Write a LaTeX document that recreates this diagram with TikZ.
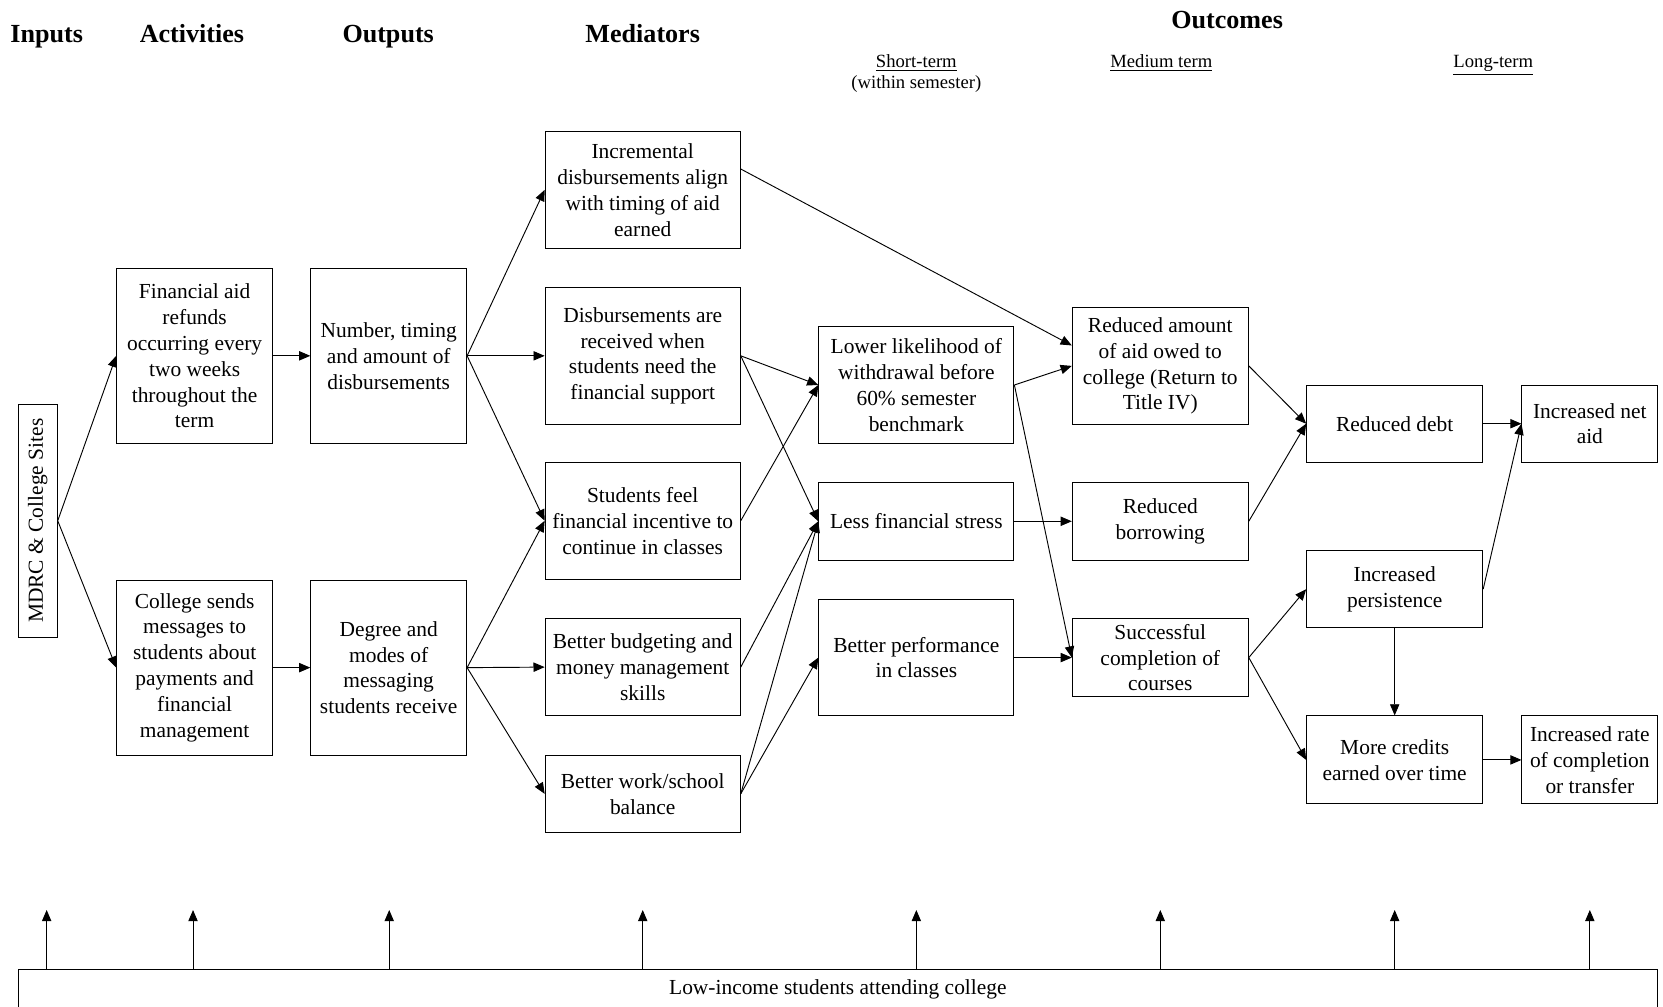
\documentclass[tikz,border=0pt]{standalone}
\usepackage{fontspec}
\setmainfont{Liberation Serif}
\usetikzlibrary{arrows.meta}
\newcommand*{\px}{0.02cm}
\tikzset{
	box/.style n args={2}{
		draw,
		line width=0.5pt,
		minimum width=#1*\px,
		minimum height=#2*\px,
		align=center,
		inner sep=1pt,
		font=\fontsize{11.5}{13.9}\selectfont,
		},
	head/.style={
		font=\fontsize{14}{16}\selectfont\bfseries,
		text height=1.6ex,
		text depth=0.5ex,
		},
	term/.style={
		font=\fontsize{10}{12}\selectfont,
		text height=1.6ex,
		text depth=0.5ex,
		},
	link/.style={
		line width=0.5pt,
		-{Triangle[length=6pt,width=5pt]},
		}
	}
\begin{document}
\begin{tikzpicture}[x=\px, y=-\px]
	\useasboundingbox (0,0) rectangle (1568,949);
	% column heads
	\node (hinp) [head] at (44,36)   {Inputs};
	\node (hact) [head] at (181,36)  {Activities};
	\node (hout) [head] at (366,36)  {Outputs};
	\node (hmed) [head] at (606,36)  {Mediators};
	\node (hres) [head] at (1157,22) {Outcomes};
	\node (hst)  [term] at (864,59)  {\underline{Short-term}};
	\node (hst2) [term] at (864,79)  {(within semester)};
	\node (hmt)  [term] at (1095,59) {\underline{Medium term}};
	\node (hlt)  [term] at (1408,59) {\underline{Long-term}};
	% boxes
	\node (mdrc) [box={220}{37}, rotate=90] at (35.5,491) {MDRC \& College Sites};
	\node (act1) [box={147}{165}] at (183.5,335.5) {Financial aid\\refunds\\occurring every\\two weeks\\throughout the\\term};
	\node (act2) [box={147}{165}] at (183.5,629.5) {College sends\\messages to\\students about\\payments and\\financial\\management};
	\node (out1) [box={147}{165}] at (366.5,335.5) {Number, timing\\and amount of\\disbursements};
	\node (out2) [box={147}{165}] at (366.5,629.5) {Degree and\\modes of\\messaging\\students receive};
	\node (med1) [box={184}{110}] at (606,179)   {Incremental\\disbursements align\\with timing of aid\\earned};
	\node (med2) [box={184}{129}] at (606,335.5) {Disbursements are\\received when\\students need the\\financial support};
	\node (med3) [box={184}{110}] at (606,491)   {Students feel\\financial incentive to\\continue in classes};
	\node (med4) [box={184}{92}]  at (606,629)   {Better budgeting and\\money management\\skills};
	\node (med5) [box={184}{73}]  at (606,748.5) {Better work/school\\balance};
	\node (st1)  [box={184}{110}] at (864,363)   {Lower likelihood of\\withdrawal before\\60\% semester\\benchmark};
	\node (st2)  [box={184}{73}]  at (864,491.5) {Less financial stress};
	\node (st3)  [box={184}{110}] at (864,620)   {Better performance\\in classes};
	\node (mt1)  [box={166}{110}] at (1094,345)   {Reduced amount\\of aid owed to\\college (Return to\\Title IV)};
	\node (mt2)  [box={166}{73}]  at (1094,491.5) {Reduced\\borrowing};
	\node (mt3)  [box={166}{74}]  at (1094,620)   {Successful\\completion of\\courses};
	\node (lt1)  [box={166}{73}]  at (1315,399.5) {Reduced debt};
	\node (lt2)  [box={166}{73}]  at (1315,555.5) {Increased\\persistence};
	\node (lt3)  [box={166}{83}]  at (1315,716.5) {More credits\\earned over time};
	\node (lt4)  [box={128}{73}]  at (1499,399.5) {Increased net\\aid};
	\node (lt5)  [box={128}{83}]  at (1499,716.5) {Increased rate\\of completion\\or transfer};
	\node (base) [box={1546}{38}] at (790,933) {Low-income students attending college};
	% links
	\draw [link] (mdrc.south) -- (act1.west);
	\draw [link] (mdrc.south) -- (act2.west);
	\draw [link] (act1) -- (out1);
	\draw [link] (act2) -- (out2);
	\foreach \m in {med1,med2,med3} {
		\draw [link] (out1.east) -- (\m.west);
	};
	\foreach \m in {med3,med4,med5} {
		\draw [link] (out2.east) -- (\m.west);
	};
	\draw [link] (med1.12) -- (mt1.167);
	\draw [link] (med2.east) -- (st1.west);
	\draw [link] (med2.east) -- (st2.west);
	\draw [link] (med3.east) -- (st1.west);
	\draw [link] (med4.east) -- (st2.west);
	\draw [link] (med5.east) -- (st2.west);
	\draw [link] (med5.east) -- (st3.west);
	\draw [link] (st1.east) -- (mt1.west);
	\draw [link] (st1.east) -- (mt3.west);
	\draw [link] (st2) -- (mt2);
	\draw [link] (st3) -- (mt3);
	\draw [link] (mt1.east) -- (lt1.west);
	\draw [link] (mt2.east) -- (lt1.west);
	\draw [link] (mt3.east) -- (lt2.west);
	\draw [link] (mt3.east) -- (lt3.west);
	\draw [link] (lt1) -- (lt4);
	\draw [link] (lt2.east) -- (lt4.west);
	\draw [link] (lt2) -- (lt3);
	\draw [link] (lt3) -- (lt5);
	\foreach \x [count=\i] in {44,182,367,606,864,1094,1315,1499} {
		\coordinate (up\i) at (\x,858);
		\draw [link] (up\i |- base.north) -- (up\i);
	};
\end{tikzpicture}
\end{document}
